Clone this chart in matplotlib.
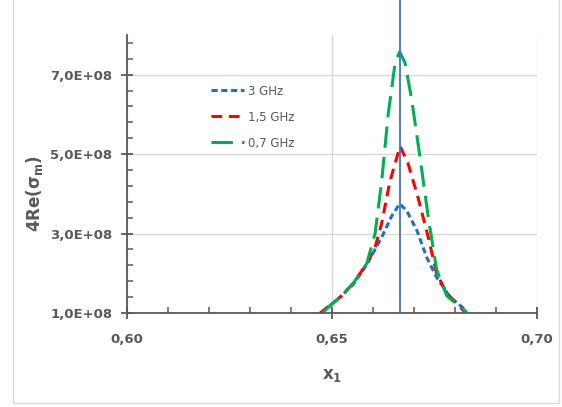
import matplotlib
matplotlib.use("Agg")
import matplotlib.pyplot as plt
from matplotlib.patches import Rectangle
from matplotlib.ticker import MultipleLocator, FuncFormatter

x_3ghz = [0.6476, 0.6487, 0.6520, 0.6552, 0.6585, 0.6605, 0.6621, 0.6646, 0.6665,
          0.6682, 0.6707, 0.6731, 0.6755, 0.6788, 0.6829]
y_3ghz = [1.0e8, 1.12e8, 1.40e8, 1.72e8, 2.22e8, 2.60e8, 2.90e8, 3.45e8, 3.75e8,
          3.58e8, 3.08e8, 2.40e8, 1.90e8, 1.40e8, 1.05e8]

x_15ghz = [0.6471, 0.6520, 0.6552, 0.6585, 0.6605, 0.6621, 0.6641, 0.6666, 0.6686,
           0.6710, 0.6735, 0.6755, 0.6780, 0.6817, 0.6825]
y_15ghz = [1.0e8, 1.40e8, 1.75e8, 2.25e8, 2.65e8, 3.25e8, 4.30e8, 5.20e8, 4.75e8,
           3.90e8, 2.90e8, 2.00e8, 1.50e8, 1.10e8, 1.00e8]

x_07ghz = [0.6478, 0.6520, 0.6552, 0.6585, 0.6605, 0.6621, 0.6637, 0.6654, 0.6665,
           0.6678, 0.6694, 0.6715, 0.6735, 0.6755, 0.6780, 0.6829]
y_07ghz = [1.02e8, 1.40e8, 1.75e8, 2.25e8, 3.00e8, 4.30e8, 6.00e8, 7.30e8, 7.58e8,
           7.30e8, 6.40e8, 4.90e8, 3.40e8, 2.10e8, 1.43e8, 1.02e8]

x_mark = 2 / 3

y_ticks = [1e8, 3e8, 5e8, 7e8]

gray = "#595959"

fig = plt.figure(figsize=(5.62, 4.07), dpi=100)
fig.patches.append(Rectangle((13 / 562, 4 / 407), 546 / 562, 1.2, transform=fig.transFigure,
                             fill=False, edgecolor="#d9d9d9", lw=1.0))
ax = fig.add_axes([127 / 562, 94 / 407, 410 / 562, 278 / 407])

ax.plot(x_3ghz, y_3ghz, color="#1f6fc5", lw=2.2, dashes=(2, 1.2), label="3 GHz")
ax.plot(x_15ghz, y_15ghz, color="#ff0000", lw=2.2, dashes=(3.5, 2.2), label="1,5 GHz")
ax.plot(x_07ghz, y_07ghz, color="#00b050", lw=2.2, dashes=(7, 3), label="0,7 GHz")
ax.axvline(x_mark, ymin=0, ymax=313 / 278, color="#4472c4", lw=1.3, clip_on=False, zorder=5)

ax.set_xlim(0.60, 0.70)
ax.set_ylim(1e8, 8e8)
ax.xaxis.set_major_locator(MultipleLocator(0.05))
ax.xaxis.set_minor_locator(MultipleLocator(0.01))
ax.set_yticks(y_ticks)
ax.yaxis.set_minor_locator(MultipleLocator(0.4e8, offset=0.2e8))
ax.xaxis.set_major_formatter(FuncFormatter(lambda v, p: f"{v:.2f}".replace(".", ",")))
ax.yaxis.set_major_formatter(FuncFormatter(lambda v, p: f"{v:.1E}".replace(".", ",")))

ax.grid(True, which="major", color="#d9d9d9", lw=1)
ax.set_axisbelow(True)
for s in ["top", "right"]:
    ax.spines[s].set_visible(False)
for s in ["left", "bottom"]:
    ax.spines[s].set_color(gray)
    ax.spines[s].set_linewidth(1.3)
ax.tick_params(which="major", direction="inout", length=9, width=1.3, color=gray,
               labelcolor=gray, labelsize=9.5, pad=6)
ax.tick_params(which="minor", direction="in", length=4, width=1.1, color=gray)
for lab in ax.get_xticklabels() + ax.get_yticklabels():
    lab.set_fontweight("bold")
ax.tick_params(axis="x", pad=10)

ax.set_xlabel("x$_\\mathbf{1}$", fontsize=12, fontweight="bold", color=gray, labelpad=14)
ax.set_ylabel("4Re(σ$_\\mathbf{m}$)", fontsize=12, fontweight="bold", color=gray)
ax.yaxis.set_label_coords(-0.2, 0.43)

leg = ax.legend(loc="upper left", bbox_to_anchor=(0.18, 0.86), frameon=False,
                fontsize=8.5, handlelength=2.8, handletextpad=0.3, labelspacing=1.1)
for t in leg.get_texts():
    t.set_color(gray)

fig.savefig("out.png", dpi=100)
